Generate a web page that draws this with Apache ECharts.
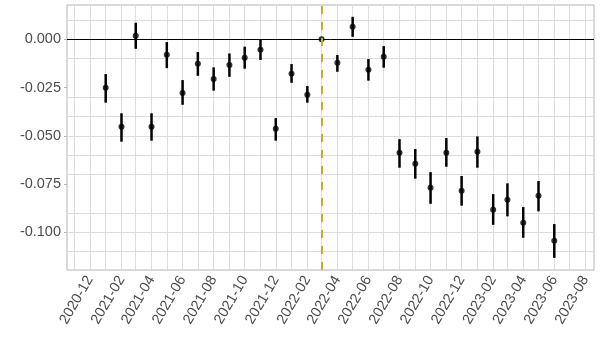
<!DOCTYPE html>
<html>
<head>
<meta charset="utf-8">
<script src="https://cdn.jsdelivr.net/npm/echarts@6/dist/echarts.min.js"></script>
<style>
  body { margin: 0; background: #fff; }
  #chart { width: 600px; height: 350px; }
</style>
</head>
<body>
<div id="chart"></div>
<script>
// months of the estimates
const months = [
  '2021-01','2021-02','2021-03','2021-04','2021-05','2021-06','2021-07','2021-08',
  '2021-09','2021-10','2021-11','2021-12','2022-01','2022-02','2022-03','2022-04',
  '2022-05','2022-06','2022-07','2022-08','2022-09','2022-10','2022-11','2022-12',
  '2023-01','2023-02','2023-03','2023-04','2023-05','2023-06'
]
const estimate = [
  -0.0251,-0.0453,0.0019,-0.0453,-0.0080,-0.0278,-0.0126,-0.0206,
  -0.0133,-0.0095,-0.0054,-0.0463,-0.0178,-0.0287,0.0000,-0.0121,
  0.0065,-0.0157,-0.0090,-0.0588,-0.0645,-0.0769,-0.0588,-0.0784,
  -0.0582,-0.0883,-0.0831,-0.0950,-0.0810,-0.1043
]
const lower = [
  -0.0328,-0.0530,-0.0049,-0.0525,-0.0149,-0.0339,-0.0189,-0.0266,
  -0.0194,-0.0152,-0.0107,-0.0525,-0.0225,-0.0328,0.0000,-0.0168,
  0.0013,-0.0214,-0.0147,-0.0665,-0.0722,-0.0852,-0.0660,-0.0862,
  -0.0665,-0.0961,-0.0917,-0.1028,-0.0891,-0.1132
]
const upper = [
  -0.0180,-0.0383,0.0086,-0.0383,-0.0014,-0.0211,-0.0066,-0.0145,
  -0.0073,-0.0038,0.0000,-0.0408,-0.0128,-0.0242,0.0000,-0.0081,
  0.0117,-0.0102,-0.0035,-0.0517,-0.0568,-0.0688,-0.0511,-0.0708,
  -0.0503,-0.0802,-0.0746,-0.0869,-0.0734,-0.0957
]

// axis breaks
const xTicks = [
  '2020-12','2021-02','2021-04','2021-06','2021-08','2021-10','2021-12','2022-02',
  '2022-04','2022-06','2022-08','2022-10','2022-12','2023-02','2023-04','2023-06','2023-08'
]
const xGrid = [
  '2020-11','2020-12','2021-01','2021-02','2021-03','2021-04','2021-05','2021-06',
  '2021-07','2021-08','2021-09','2021-10','2021-11','2021-12','2022-01','2022-02',
  '2022-03','2022-04','2022-05','2022-06','2022-07','2022-08','2022-09','2022-10',
  '2022-11','2022-12','2023-01','2023-02','2023-03','2023-04','2023-05','2023-06',
  '2023-07','2023-08'
]
const yTicks = [-0.1, -0.075, -0.05, -0.025, 0]
const yGrid = [-0.1125,-0.1,-0.0875,-0.075,-0.0625,-0.05,-0.0375,-0.025,-0.0125,0,0.0125]
const xRange = ['2020-10-17', '2023-08-18']
const yRange = [-0.1195, 0.0178]
const refMonth = '2022-03'

const toTime = s => {
  const p = s.split('-').map(Number)
  return new Date(p[0], p[1] - 1, p[2] || 1).getTime()
}
const pad = n => (n < 10 ? '0' : '') + n

const bars = months.map((m, i) => [toTime(m), lower[i], upper[i]])
const points = months.map((m, i) => [toTime(m), estimate[i]])

const gridLine = { color: '#dcdcdc', width: 1, type: 'solid' }
const labelFont = 'Liberation Sans, Arial, sans-serif'

const chart = echarts.init(document.getElementById('chart'))
chart.setOption({
  animation: false,
  grid: {
    left: 67, top: 5, width: 527, height: 265,
    show: true, borderColor: '#b3b3b3', borderWidth: 1
  },
  xAxis: {
    // dates kept as timestamps on a plain value axis
    type: 'value',
    min: toTime(xRange[0]),
    max: toTime(xRange[1]),
    axisLine: { show: false },
    splitLine: { show: false },
    axisTick: {
      customValues: xTicks.map(toTime),
      length: 3, lineStyle: { color: '#b3b3b3' }
    },
    axisLabel: {
      customValues: xTicks.map(toTime),
      rotate: 60,
      margin: 7,
      color: '#4d4d4d',
      fontSize: 14.5,
      fontFamily: labelFont,
      showMinLabel: true,
      showMaxLabel: true,
      hideOverlap: false,
      formatter: v => {
        const d = new Date(v)
        return d.getFullYear() + '-' + pad(d.getMonth() + 1)
      }
    }
  },
  yAxis: {
    type: 'value',
    min: yRange[0],
    max: yRange[1],
    axisLine: { show: false },
    splitLine: { show: false },
    axisTick: {
      show: true, customValues: yTicks,
      length: 3, lineStyle: { color: '#b3b3b3' }
    },
    axisLabel: {
      customValues: yTicks,
      margin: 6,
      color: '#4d4d4d',
      fontSize: 14.5,
      fontFamily: labelFont,
      formatter: v => v.toFixed(3)
    }
  },
  series: [
    {
      // panel grid + zero line (markLine has its own z, keep it under the marks)
      type: 'line',
      data: [],
      z: 1,
      silent: true,
      markLine: {
        z: 1,
        silent: true,
        symbol: 'none',
        label: { show: false },
        animation: false,
        data: [
          ...xGrid.map(m => ({ xAxis: toTime(m), lineStyle: gridLine })),
          ...yGrid.map(v => ({ yAxis: v, lineStyle: gridLine })),
          { yAxis: 0, lineStyle: { color: '#000', width: 1, type: 'solid' } }
        ]
      }
    },
    {
      // confidence intervals, drawn as thin filled rects
      type: 'custom',
      z: 3,
      silent: true,
      data: bars,
      renderItem: (params, api) => {
        const lo = api.coord([api.value(0), api.value(1)])
        const hi = api.coord([api.value(0), api.value(2)])
        return {
          type: 'rect',
          shape: { x: lo[0] - 1.25, y: hi[1], width: 2.5, height: lo[1] - hi[1] },
          style: { fill: '#000' }
        }
      }
    },
    {
      type: 'scatter',
      z: 4,
      silent: true,
      data: points,
      symbolSize: 6,
      itemStyle: { color: '#000' }
    },
    {
      // reference period
      type: 'line',
      data: [],
      z: 10,
      silent: true,
      markLine: {
        z: 10,
        silent: true,
        symbol: 'none',
        label: { show: false },
        animation: false,
        data: [{
          xAxis: toTime(refMonth),
          lineStyle: { color: '#c8aa2c', width: 2, type: [8, 8] }
        }]
      }
    }
  ]
})
</script>
</body>
</html>
